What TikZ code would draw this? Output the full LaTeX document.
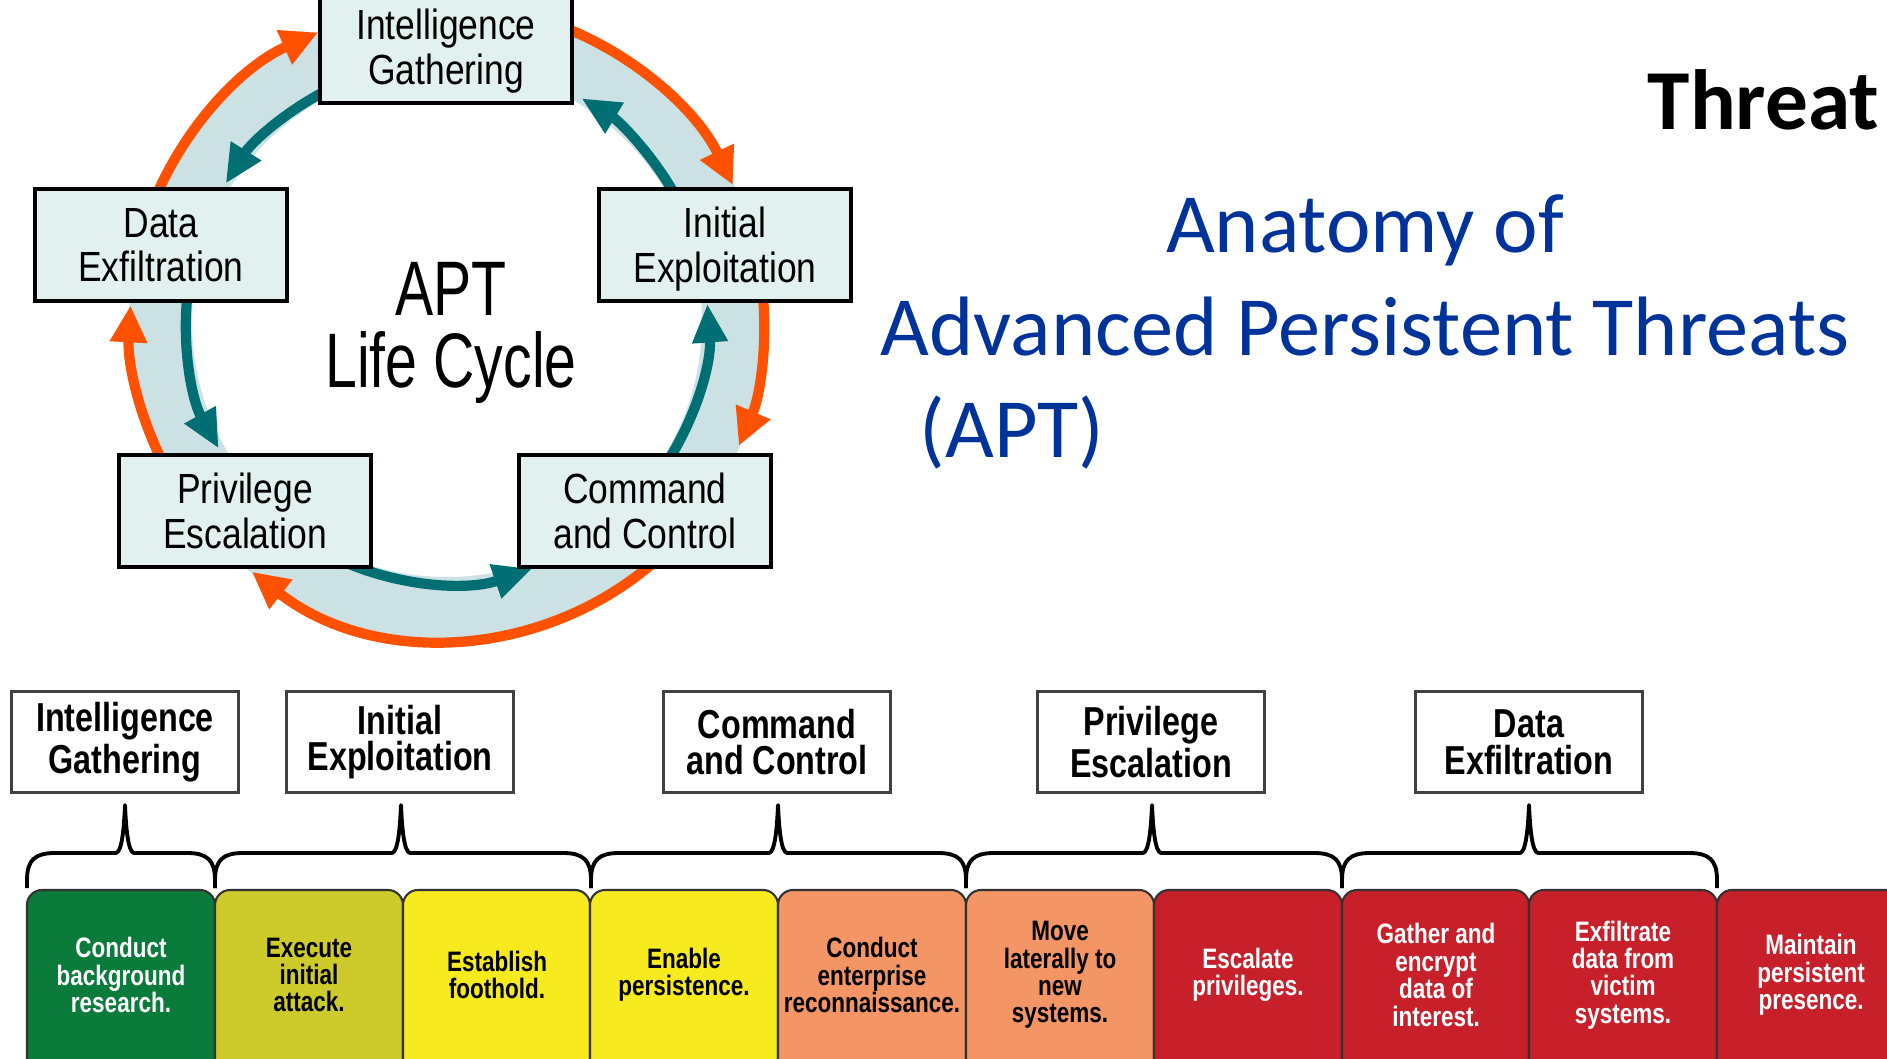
\documentclass[tikz,border=0pt]{standalone}
\usepackage{fontspec}
\setmainfont{Liberation Sans}
\newfontfamily\boxfont[FakeStretch=0.84]{Liberation Sans}
\newfontfamily\stagefont[FakeStretch=0.8]{Liberation Sans}
\newfontfamily\aptfont[FakeStretch=0.74]{Liberation Sans}
\newfontfamily\slidefont{Carlito}
\usetikzlibrary{arrows.meta,calc}

\definecolor{ringband}{HTML}{CCE1E4}
\definecolor{boxfill}{HTML}{E3F0F0}
\definecolor{aptteal}{HTML}{006F73}
\definecolor{aptorange}{HTML}{FF5100}
\definecolor{titleblue}{HTML}{003399}
\definecolor{stgreen}{HTML}{0B7B3B}
\definecolor{stolive}{HTML}{CDCA2C}
\definecolor{styellow}{HTML}{F7EB1F}
\definecolor{stsalmon}{HTML}{F39565}
\definecolor{stred}{HTML}{C8202A}

\tikzset{
	phase/.style={draw=black, line width=1.2pt, fill=boxfill, minimum width=25.2mm, minimum height=11.2mm, align=center, inner sep=0pt, text depth=0pt, font=\boxfont\fontsize{12}{12.8}\selectfont},
	apttitle/.style={align=center, inner sep=0pt, font=\aptfont\fontsize{22}{20.5}\selectfont},
	ringorange/.style={draw=aptorange, line width=2.9pt, -{Triangle[width=10pt,length=10.5pt]}},
	ringteal/.style={draw=aptteal, line width=2.9pt, -{Triangle[width=9.5pt,length=11pt]}},
	stagelabel/.style={draw=black!75, line width=0.6pt, fill=white, minimum width=22.7mm, minimum height=10.1mm, align=center, inner sep=0pt, font=\stagefont\bfseries\fontsize{11.5}{10.5}\selectfont},
	steptext/.style={align=center, inner sep=0pt, font=\stagefont\bfseries\fontsize{8}{7.8}\selectfont},
	slidetitle/.style={inner sep=0pt, text=titleblue, font=\slidefont\fontsize{24}{28}\selectfont},
	brace/.style={draw=black, line width=1.1pt, line join=round}
}

\def\ringarc[#1](#2:#3:#4){\draw[#1] (hub) ++(#2:#4) arc[start angle=#2, end angle=#3, radius=#4];}
\def\stagebrace#1#2#3{\draw[brace] (#1,170) -- (#1,178) .. controls (#1,198) and ({#1+8},205) .. ({#1+28},205) -- ({#3-9},205) .. controls ({#3-3},206) and ({#3-1},230) .. (#3,253) .. controls ({#3+1},230) and ({#3+3},206) .. ({#3+9},205) -- ({#2-28},205) .. controls ({#2-8},205) and (#2,198) .. (#2,178) -- (#2,170);}
\def\stepcard#1#2#3{\filldraw[draw=black!80, line width=0.6pt, fill=#3, rounded corners=1.5mm] (#1,-30) |- (#2,168) -- (#2,-30);}

\begin{document}
\begin{tikzpicture}[x=0.1mm, y=0.1mm]
	\useasboundingbox (0,0) rectangle (1887,1058);
	\clip (0,0) rectangle (1887,1058);
	
	%%%%% LIFE CYCLE %%%%%
	
	\coordinate (hub) at (447,736);
	\fill[ringband, even odd rule] (hub) circle[radius=318] (hub) circle[radius=255];
	
	\ringarc[ringorange](160:114:317)
	\ringarc[ringorange](70:25.6:317)
	\ringarc[ringorange](8:-23:317)
	\ringarc[ringorange](-45:-128:317)
	\ringarc[ringorange](210:177:317)
	
	\ringarc[ringteal](115:148:261)
	\ringarc[ringteal](172:209:261)
	\ringarc[ringteal](244:289:261)
	\ringarc[ringteal](-35:4:261)
	\ringarc[ringteal](30:59:261)
	
	\node[phase] (ig) at (446,1011) {Intelligence\\Gathering};
	\node[phase] (de) at (161,813) {Data\\Exfiltration};
	\node[phase] (ie) at (725,813) {Initial\\Exploitation};
	\node[phase] (pe) at (245,547) {Privilege\\Escalation};
	\node[phase] (cc) at (645,547) {Command\\and Control};
	\node[apttitle] (apt) at (451,725) {APT\\Life Cycle};
	
	%%%%% TITLES %%%%%
	
	\node[anchor=base east, inner sep=0pt, font=\slidefont\bfseries\fontsize{24.3}{28}\selectfont] (threat) at (1880,928) {Threat};
	\node[slidetitle, anchor=base] (anatomy) at (1365,805) {Anatomy of};
	\node[slidetitle, anchor=base] (advanced) at (1365,702) {Advanced Persistent Threats};
	\node[slidetitle, anchor=base west] (abbrev) at (919,600) {(APT)};
	
	%%%%% STAGES %%%%%
	
	\node[stagelabel] (lig) at (125,316) {Intelligence\\Gathering};
	\node[stagelabel] (lie) at (400,316) {Initial\\Exploitation};
	\node[stagelabel] (lcc) at (777,316) {Command\\and Control};
	\node[stagelabel] (lpe) at (1151,316) {Privilege\\Escalation};
	\node[stagelabel] (lde) at (1529,316) {Data\\Exfiltration};
	
	\stagebrace{27}{215}{125}
	\stagebrace{215}{591}{401}
	\stagebrace{591}{966}{778}
	\stagebrace{966}{1342}{1152}
	\stagebrace{1342}{1717}{1529}
	
	\stepcard{27}{215}{stgreen}
	\stepcard{215}{403}{stolive}
	\stepcard{403}{590}{styellow}
	\stepcard{590}{778}{styellow}
	\stepcard{778}{966}{stsalmon}
	\stepcard{966}{1154}{stsalmon}
	\stepcard{1154}{1342}{stred}
	\stepcard{1342}{1529}{stred}
	\stepcard{1529}{1717}{stred}
	\stepcard{1717}{1905}{stred}
	
	\node[steptext, text=white] (s1) at (121,83) {Conduct\\background\\research.};
	\node[steptext] (s2) at (309,83) {Execute\\initial\\attack.};
	\node[steptext] (s3) at (497,83) {Establish\\foothold.};
	\node[steptext] (s4) at (684,83) {Enable\\persistence.};
	\node[steptext] (s5) at (872,83) {Conduct\\enterprise\\reconnaissance.};
	\node[steptext] (s6) at (1060,83) {Move\\laterally to\\new\\systems.};
	\node[steptext, text=white] (s7) at (1248,83) {Escalate\\privileges.};
	\node[steptext, text=white] (s8) at (1436,83) {Gather and\\encrypt\\data of\\interest.};
	\node[steptext, text=white] (s9) at (1623,83) {Exfiltrate\\data from\\victim\\systems.};
	\node[steptext, text=white] (s10) at (1811,83) {Maintain\\persistent\\presence.};
	
\end{tikzpicture}
\end{document}
